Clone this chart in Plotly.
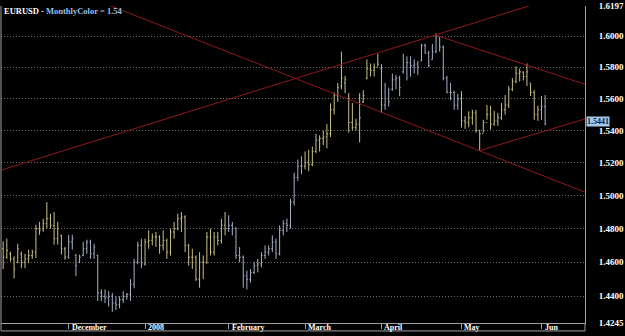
import math
import pandas as pd
import plotly.graph_objects as go

# ---------------- data ----------------
start_date = "2007-11-07"
end_date = "2008-06-03"

opens = [
    # Nov
    1.4680, 1.4630, 1.4650, 1.4620, 1.4600, 1.4650, 1.4600, 1.4620, 1.4640, 1.4660,
    1.4800, 1.4800, 1.4830, 1.4860, 1.4820, 1.4740, 1.4760, 1.4680,
    # Dec
    1.4630, 1.4720, 1.4640, 1.4600, 1.4640, 1.4680, 1.4720, 1.4650, 1.4640, 1.4420,
    1.4400, 1.4390, 1.4400, 1.4360, 1.4350, 1.4380, 1.4400, 1.4410, 1.4470, 1.4600, 1.4700,
    # Jan
    1.4590, 1.4720, 1.4730, 1.4750, 1.4750, 1.4700, 1.4730, 1.4660, 1.4780, 1.4800,
    1.4860, 1.4870, 1.4700, 1.4630, 1.4630, 1.4500, 1.4600, 1.4600, 1.4750, 1.4660,
    1.4750, 1.4730, 1.4820,
    # Feb
    1.4800, 1.4820, 1.4800, 1.4640, 1.4630, 1.4520, 1.4500, 1.4540, 1.4580, 1.4590,
    1.4640, 1.4660, 1.4680, 1.4720, 1.4650, 1.4790, 1.4830, 1.4820, 1.4960, 1.5110, 1.5180,
    # Mar
    1.5180, 1.5200, 1.5190, 1.5270, 1.5340, 1.5350, 1.5360, 1.5380, 1.5530, 1.5620,
    1.5680, 1.5700, 1.5600, 1.5450, 1.5420, 1.5440, 1.5580, 1.5730, 1.5790, 1.5780, 1.5800,
    # Apr
    1.5790, 1.5560, 1.5600, 1.5660, 1.5720, 1.5730, 1.5770, 1.5800, 1.5830, 1.5810,
    1.5820, 1.5840, 1.5940, 1.5890, 1.5850, 1.5900, 1.6000, 1.5930, 1.5730, 1.5640,
    1.5640, 1.5560,
    # May
    1.5600, 1.5460, 1.5450, 1.5480, 1.5510, 1.5400, 1.5380, 1.5450, 1.5500, 1.5440,
    1.5460, 1.5480, 1.5530, 1.5560, 1.5660, 1.5710, 1.5760, 1.5770, 1.5740, 1.5700,
    1.5640, 1.5500,
    # Jun
    1.5530, 1.5550,
]
highs = [
    1.4725, 1.4740, 1.4663, 1.4635, 1.4710, 1.4663, 1.4650, 1.4675, 1.4675, 1.4823,
    1.4841, 1.4860, 1.4960, 1.4890, 1.4900, 1.4841, 1.4763, 1.4690,
    1.4763, 1.4763, 1.4650, 1.4645, 1.4722, 1.4734, 1.4734, 1.4710, 1.4645, 1.4441,
    1.4440, 1.4430, 1.4420, 1.4400, 1.4400, 1.4430, 1.4420, 1.4500, 1.4620, 1.4722, 1.4740,
    1.4740, 1.4790, 1.4770, 1.4780, 1.4760, 1.4790, 1.4740, 1.4800, 1.4840, 1.4890,
    1.4900, 1.4880, 1.4710, 1.4680, 1.4640, 1.4660, 1.4640, 1.4780, 1.4800, 1.4780,
    1.4780, 1.4860, 1.4900,
    1.4880, 1.4840, 1.4810, 1.4690, 1.4640, 1.4550, 1.4560, 1.4600, 1.4620, 1.4660,
    1.4700, 1.4700, 1.4760, 1.4740, 1.4820, 1.4850, 1.4860, 1.4980, 1.5140, 1.5220, 1.5240,
    1.5270, 1.5280, 1.5300, 1.5380, 1.5370, 1.5400, 1.5440, 1.5570, 1.5640, 1.5700,
    1.5900, 1.5745, 1.5635, 1.5573, 1.5474, 1.5635, 1.5654, 1.5850, 1.5824, 1.5824, 1.5887,
    1.5820, 1.5700, 1.5670, 1.5760, 1.5750, 1.5745, 1.5887, 1.5870, 1.5870, 1.5850,
    1.5840, 1.5950, 1.5951, 1.5906, 1.5950, 1.6019, 1.6000, 1.5940, 1.5745, 1.5700,
    1.5650, 1.5630,
    1.5647, 1.5490, 1.5520, 1.5530, 1.5530, 1.5405, 1.5467, 1.5560, 1.5555, 1.5524,
    1.5511, 1.5573, 1.5623, 1.5680, 1.5730, 1.5805, 1.5792, 1.5773, 1.5824, 1.5698,
    1.5654, 1.5555,
    1.5617, 1.5623,
]
lows = [
    1.4560, 1.4620, 1.4605, 1.4505, 1.4595, 1.4565, 1.4565, 1.4595, 1.4620, 1.4625,
    1.4763, 1.4781, 1.4800, 1.4800, 1.4705, 1.4705, 1.4645, 1.4615,
    1.4620, 1.4675, 1.4518, 1.4595, 1.4635, 1.4650, 1.4620, 1.4620, 1.4372, 1.4372,
    1.4360, 1.4340, 1.4310, 1.4320, 1.4330, 1.4360, 1.4380, 1.4372, 1.4447, 1.4588, 1.4565,
    1.4580, 1.4680, 1.4700, 1.4690, 1.4650, 1.4670, 1.4620, 1.4640, 1.4740, 1.4790,
    1.4780, 1.4660, 1.4580, 1.4560, 1.4490, 1.4450, 1.4500, 1.4590, 1.4640, 1.4640,
    1.4700, 1.4710, 1.4760,
    1.4780, 1.4760, 1.4620, 1.4600, 1.4450, 1.4440, 1.4480, 1.4530, 1.4540, 1.4570,
    1.4620, 1.4640, 1.4660, 1.4620, 1.4640, 1.4760, 1.4780, 1.4800, 1.4940, 1.5090, 1.5130,
    1.5160, 1.5150, 1.5180, 1.5260, 1.5270, 1.5310, 1.5290, 1.5360, 1.5500, 1.5580,
    1.5660, 1.5635, 1.5387, 1.5400, 1.5400, 1.5326, 1.5573, 1.5722, 1.5741, 1.5741, 1.5805,
    1.5510, 1.5530, 1.5550, 1.5650, 1.5660, 1.5616, 1.5760, 1.5716, 1.5740, 1.5760,
    1.5750, 1.5840, 1.5887, 1.5800, 1.5850, 1.5890, 1.5900, 1.5716, 1.5635, 1.5590,
    1.5530, 1.5530,
    1.5418, 1.5410, 1.5420, 1.5437, 1.5387, 1.5275, 1.5387, 1.5467, 1.5405, 1.5430,
    1.5430, 1.5467, 1.5499, 1.5542, 1.5648, 1.5698, 1.5710, 1.5716, 1.5680, 1.5617,
    1.5467, 1.5461,
    1.5467, 1.5432,
]
closes = [
    1.4630, 1.4670, 1.4620, 1.4560, 1.4680, 1.4600, 1.4620, 1.4640, 1.4660, 1.4800,
    1.4790, 1.4830, 1.4860, 1.4820, 1.4740, 1.4800, 1.4680, 1.4630,
    1.4720, 1.4740, 1.4580, 1.4630, 1.4680, 1.4720, 1.4650, 1.4690, 1.4420, 1.4400,
    1.4390, 1.4400, 1.4360, 1.4350, 1.4380, 1.4400, 1.4410, 1.4470, 1.4600, 1.4700, 1.4590,
    1.4720, 1.4730, 1.4750, 1.4750, 1.4700, 1.4730, 1.4660, 1.4780, 1.4800, 1.4860,
    1.4870, 1.4700, 1.4630, 1.4630, 1.4500, 1.4600, 1.4600, 1.4750, 1.4660, 1.4750,
    1.4730, 1.4820, 1.4800,
    1.4820, 1.4800, 1.4640, 1.4630, 1.4520, 1.4500, 1.4540, 1.4580, 1.4590, 1.4640,
    1.4660, 1.4680, 1.4720, 1.4650, 1.4790, 1.4830, 1.4820, 1.4960, 1.5110, 1.5180, 1.5180,
    1.5200, 1.5190, 1.5270, 1.5340, 1.5350, 1.5360, 1.5380, 1.5530, 1.5620, 1.5670,
    1.5730, 1.5720, 1.5450, 1.5420, 1.5440, 1.5480, 1.5620, 1.5790, 1.5780, 1.5800, 1.5820,
    1.5560, 1.5600, 1.5580, 1.5720, 1.5730, 1.5670, 1.5800, 1.5830, 1.5810, 1.5820,
    1.5800, 1.5940, 1.5890, 1.5810, 1.5900, 1.6000, 1.5930, 1.5730, 1.5640, 1.5640,
    1.5560, 1.5600,
    1.5460, 1.5450, 1.5480, 1.5510, 1.5400, 1.5380, 1.5450, 1.5500, 1.5440, 1.5460,
    1.5480, 1.5530, 1.5560, 1.5660, 1.5710, 1.5760, 1.5770, 1.5740, 1.5770, 1.5640,
    1.5500, 1.5530,
    1.5550, 1.5441,
]

month_tick_dates = ["2007-12-03", "2008-01-01", "2008-02-01", "2008-03-03",
                    "2008-04-01", "2008-05-01", "2008-06-02"]
month_tick_labels = ["December", "2008", "February", "March", "April", "May", "Jun"]

price_ticks = [1.4245, 1.44, 1.46, 1.48, 1.50, 1.52, 1.54, 1.56, 1.58, 1.60, 1.61965]
price_tick_labels = ["1.4245", "1.4400", "1.4600", "1.4800", "1.5000", "1.5200",
                     "1.5400", "1.5600", "1.5800", "1.6000", "1.6197"]
y_min, y_max = 1.4245, 1.6197
last_price = 1.5441
title_name = "EURUSD - "
title_indicator = "MonthlyColor = 1.54"

# trend lines: (bar index, price) end points
trend_lines = [
    ([-0.9, 160.0], [1.5153, 1.6313]),
    ([21.0, 160.0], [1.6278, 1.5020]),
    ([118.7, 160.0], [1.6008, 1.5691]),
    ([130.96, 160.0], [1.5275, 1.5473]),
]

# ---------------- figure ----------------
dates = pd.bdate_range(start_date, end_date)
date_pos = {d.strftime("%Y-%m-%d"): i for i, d in enumerate(dates)}
tick_idx = [date_pos[d] for d in month_tick_dates]

YELLOW = "#c8c088"
BLUE = "#a8b0c8"
RED = "#8b1a1a"
GRID = "#6a6a6a"
FRAME = "#a0a0a0"

fig = go.Figure()

groups = {}
for i, d in enumerate(dates):
    groups.setdefault((d.year, d.month), []).append(i)

for (yr, mo), ids in groups.items():
    col = YELLOW if mo % 2 == 1 else BLUE
    fig.add_trace(go.Ohlc(
        x=ids,
        open=[opens[i] for i in ids],
        high=[highs[i] for i in ids],
        low=[lows[i] for i in ids],
        close=[closes[i] for i in ids],
        increasing=dict(line=dict(color=col, width=1)),
        decreasing=dict(line=dict(color=col, width=1)),
        tickwidth=0.3,
        hoverinfo="skip",
        showlegend=False,
    ))

for tx, ty in trend_lines:
    fig.add_trace(go.Scatter(x=tx, y=ty, mode="lines",
                             line=dict(color=RED, width=1),
                             hoverinfo="skip", showlegend=False))

W, H = 625, 336
ml, mr, mt, mb = 1, 37, 3, 13
plot_h = H - mt - mb

annotations = []
for ti, lab in zip(tick_idx, month_tick_labels):
    annotations.append(dict(
        x=ti, xref="x", xanchor="left", xshift=1,
        y=-4.5 / plot_h, yref="paper", yanchor="middle",
        text=lab, showarrow=False,
        font=dict(family="Liberation Serif", size=8, color="white", weight="bold"),
    ))

annotations.append(dict(
    x=0, xref="paper", xanchor="left", xshift=1,
    y=1, yref="paper", yanchor="top", yshift=2,
    text=title_name + "<span style='color:#9cc0e8'>" + title_indicator + "</span>",
    showarrow=False,
    font=dict(family="Liberation Serif", size=8.5, color="white", weight="bold"),
))

annotations.append(dict(
    x=1, xref="paper", xanchor="left", xshift=1,
    y=math.log10(last_price), yref="y", yanchor="middle", yshift=2,
    text=f"{last_price:.4f}", showarrow=False,
    bgcolor="#a8c8e8", borderpad=0,
    font=dict(family="Liberation Serif", size=8, color="#0a1a40", weight="bold"),
))

bottom_y = -8.0 / plot_h
shapes = [
    dict(type="line", xref="paper", yref="paper", x0=0, x1=0, y0=bottom_y, y1=1,
         line=dict(color=FRAME, width=1)),
    dict(type="line", xref="paper", yref="paper", x0=0, x1=1, y0=bottom_y, y1=bottom_y,
         line=dict(color=FRAME, width=1)),
    dict(type="line", xref="paper", yref="paper", x0=1, x1=1, y0=bottom_y, y1=0,
         line=dict(color=FRAME, width=1)),
]

fig.update_layout(
    width=W, height=H,
    margin=dict(l=ml, r=mr, t=mt, b=mb),
    paper_bgcolor="black", plot_bgcolor="black",
    showlegend=False,
    annotations=annotations,
    shapes=shapes,
    xaxis=dict(
        range=[-0.6, 159.96],
        tickvals=tick_idx, showticklabels=False,
        ticks="outside", ticklen=5, tickcolor=FRAME, tickwidth=1,
        showgrid=False, zeroline=False,
        showline=True, linecolor=FRAME, linewidth=1,
        rangeslider=dict(visible=False),
    ),
    yaxis=dict(
        type="log", side="right",
        range=[math.log10(y_min), math.log10(y_max)],
        tickvals=price_ticks, ticktext=price_tick_labels,
        ticks="", ticklabelstandoff=11, ticklabeloverflow="allow",
        tickfont=dict(family="Liberation Serif", size=9, color="white", weight="bold"),
        showgrid=True, gridcolor=GRID, griddash="1px,2px", gridwidth=1,
        zeroline=False, showline=True, linecolor=FRAME, linewidth=1,
    ),
)

fig.write_html("out.html")
